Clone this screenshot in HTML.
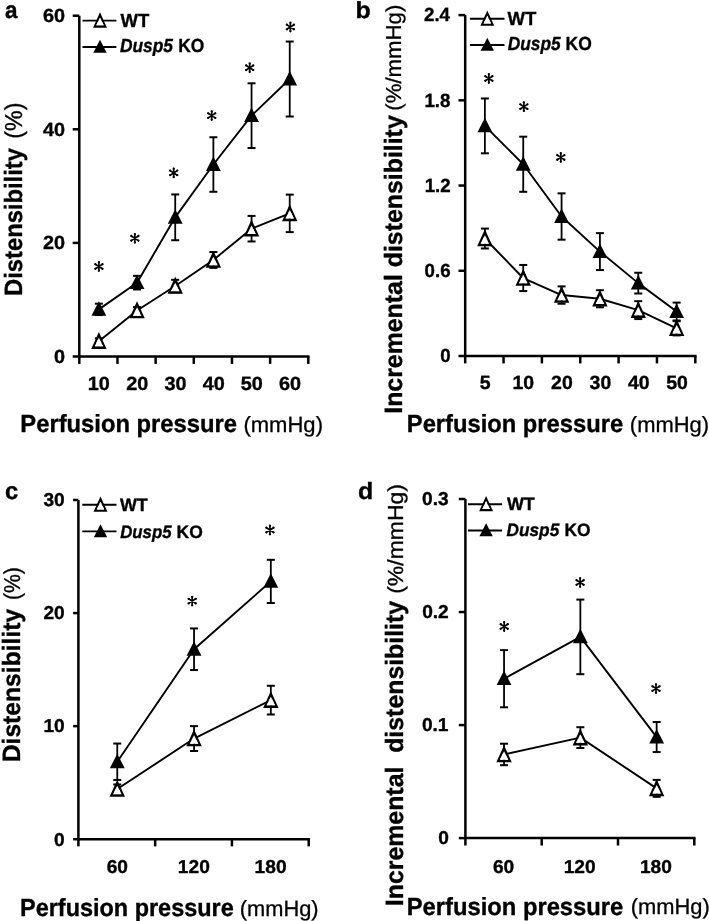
<!DOCTYPE html>
<html><head><meta charset="utf-8"><style>
html,body{margin:0;padding:0;background:#fff;overflow:hidden;}
svg{display:block;filter:blur(0.4px);}
text{font-family:"Liberation Sans", sans-serif;fill:#000;white-space:pre;text-rendering:geometricPrecision;}
</style></head><body>
<svg width="709" height="921" viewBox="0 0 709 921">
<rect width="709" height="921" fill="#fff"/>
<line x1="79.30" y1="15.70" x2="79.30" y2="357.75" stroke="#000" stroke-width="2.5"/>
<line x1="78.05" y1="356.50" x2="309.55" y2="356.50" stroke="#000" stroke-width="2.5"/>
<line x1="72.70" y1="356.50" x2="79.30" y2="356.50" stroke="#000" stroke-width="2.5"/>
<text transform="translate(53.97,362.80) scale(1.0400,1)" font-size="19.1" font-weight="bold" font-style="normal" stroke="#000" stroke-width="0.35">0</text>
<line x1="72.70" y1="242.90" x2="79.30" y2="242.90" stroke="#000" stroke-width="2.5"/>
<text transform="translate(42.92,249.20) scale(1.0400,1)" font-size="19.1" font-weight="bold" font-style="normal" stroke="#000" stroke-width="0.35">20</text>
<line x1="72.70" y1="129.30" x2="79.30" y2="129.30" stroke="#000" stroke-width="2.5"/>
<text transform="translate(42.92,135.60) scale(1.0400,1)" font-size="19.1" font-weight="bold" font-style="normal" stroke="#000" stroke-width="0.35">40</text>
<line x1="72.70" y1="15.70" x2="79.30" y2="15.70" stroke="#000" stroke-width="2.5"/>
<text transform="translate(42.92,22.00) scale(1.0400,1)" font-size="19.1" font-weight="bold" font-style="normal" stroke="#000" stroke-width="0.35">60</text>
<line x1="79.30" y1="356.50" x2="79.30" y2="363.90" stroke="#000" stroke-width="2.5"/>
<line x1="117.47" y1="356.50" x2="117.47" y2="363.90" stroke="#000" stroke-width="2.5"/>
<line x1="155.63" y1="356.50" x2="155.63" y2="363.90" stroke="#000" stroke-width="2.5"/>
<line x1="193.80" y1="356.50" x2="193.80" y2="363.90" stroke="#000" stroke-width="2.5"/>
<line x1="231.97" y1="356.50" x2="231.97" y2="363.90" stroke="#000" stroke-width="2.5"/>
<line x1="270.13" y1="356.50" x2="270.13" y2="363.90" stroke="#000" stroke-width="2.5"/>
<line x1="308.30" y1="356.50" x2="308.30" y2="363.90" stroke="#000" stroke-width="2.5"/>
<text transform="translate(87.82,390.10) scale(1.0400,1)" font-size="19.1" font-weight="bold" font-style="normal" stroke="#000" stroke-width="0.35">10</text>
<text transform="translate(126.27,390.10) scale(1.0400,1)" font-size="19.1" font-weight="bold" font-style="normal" stroke="#000" stroke-width="0.35">20</text>
<text transform="translate(164.55,390.10) scale(1.0400,1)" font-size="19.1" font-weight="bold" font-style="normal" stroke="#000" stroke-width="0.35">30</text>
<text transform="translate(202.79,390.10) scale(1.0400,1)" font-size="19.1" font-weight="bold" font-style="normal" stroke="#000" stroke-width="0.35">40</text>
<text transform="translate(240.80,390.10) scale(1.0400,1)" font-size="19.1" font-weight="bold" font-style="normal" stroke="#000" stroke-width="0.35">50</text>
<text transform="translate(278.91,390.10) scale(1.0400,1)" font-size="19.1" font-weight="bold" font-style="normal" stroke="#000" stroke-width="0.35">60</text>
<polyline points="98.88,341.16 137.05,310.49 175.22,286.07 213.38,259.94 251.55,228.70 289.72,213.36" fill="none" stroke="#000" stroke-width="1.9" stroke-linejoin="round"/>
<polyline points="98.88,309.36 137.05,282.66 175.22,217.34 213.38,164.52 251.55,115.67 289.72,79.03" fill="none" stroke="#000" stroke-width="1.9" stroke-linejoin="round"/>
<line x1="98.88" y1="338.32" x2="98.88" y2="344.00" stroke="#000" stroke-width="1.8"/>
<line x1="94.88" y1="338.32" x2="102.88" y2="338.32" stroke="#000" stroke-width="2.0"/>
<line x1="94.88" y1="344.00" x2="102.88" y2="344.00" stroke="#000" stroke-width="2.0"/>
<line x1="137.05" y1="307.08" x2="137.05" y2="313.90" stroke="#000" stroke-width="1.8"/>
<line x1="133.05" y1="307.08" x2="141.05" y2="307.08" stroke="#000" stroke-width="2.0"/>
<line x1="133.05" y1="313.90" x2="141.05" y2="313.90" stroke="#000" stroke-width="2.0"/>
<line x1="175.22" y1="279.82" x2="175.22" y2="292.32" stroke="#000" stroke-width="1.8"/>
<line x1="171.22" y1="279.82" x2="179.22" y2="279.82" stroke="#000" stroke-width="2.0"/>
<line x1="171.22" y1="292.32" x2="179.22" y2="292.32" stroke="#000" stroke-width="2.0"/>
<line x1="213.38" y1="251.99" x2="213.38" y2="267.89" stroke="#000" stroke-width="1.8"/>
<line x1="209.38" y1="251.99" x2="217.38" y2="251.99" stroke="#000" stroke-width="2.0"/>
<line x1="209.38" y1="267.89" x2="217.38" y2="267.89" stroke="#000" stroke-width="2.0"/>
<line x1="251.55" y1="215.92" x2="251.55" y2="241.48" stroke="#000" stroke-width="1.8"/>
<line x1="247.55" y1="215.92" x2="255.55" y2="215.92" stroke="#000" stroke-width="2.0"/>
<line x1="247.55" y1="241.48" x2="255.55" y2="241.48" stroke="#000" stroke-width="2.0"/>
<line x1="289.72" y1="194.62" x2="289.72" y2="232.11" stroke="#000" stroke-width="1.8"/>
<line x1="285.72" y1="194.62" x2="293.72" y2="194.62" stroke="#000" stroke-width="2.0"/>
<line x1="285.72" y1="232.11" x2="293.72" y2="232.11" stroke="#000" stroke-width="2.0"/>
<path d="M98.88,331.96 L106.58,348.96 L91.18,348.96 Z M98.88,337.86 L103.08,346.36 L94.68,346.36 Z" fill="#000" fill-rule="evenodd"/>
<path d="M98.88,337.86 L103.08,346.36 L94.68,346.36 Z" fill="#fff"/>
<path d="M137.05,301.29 L144.75,318.29 L129.35,318.29 Z M137.05,307.19 L141.25,315.69 L132.85,315.69 Z" fill="#000" fill-rule="evenodd"/>
<path d="M137.05,307.19 L141.25,315.69 L132.85,315.69 Z" fill="#fff"/>
<path d="M175.22,276.87 L182.92,293.87 L167.52,293.87 Z M175.22,282.77 L179.42,291.27 L171.02,291.27 Z" fill="#000" fill-rule="evenodd"/>
<path d="M175.22,282.77 L179.42,291.27 L171.02,291.27 Z" fill="#fff"/>
<path d="M213.38,250.74 L221.08,267.74 L205.68,267.74 Z M213.38,256.64 L217.58,265.14 L209.18,265.14 Z" fill="#000" fill-rule="evenodd"/>
<path d="M213.38,256.64 L217.58,265.14 L209.18,265.14 Z" fill="#fff"/>
<path d="M251.55,219.50 L259.25,236.50 L243.85,236.50 Z M251.55,225.40 L255.75,233.90 L247.35,233.90 Z" fill="#000" fill-rule="evenodd"/>
<path d="M251.55,225.40 L255.75,233.90 L247.35,233.90 Z" fill="#fff"/>
<path d="M289.72,204.16 L297.42,221.16 L282.02,221.16 Z M289.72,210.06 L293.92,218.56 L285.52,218.56 Z" fill="#000" fill-rule="evenodd"/>
<path d="M289.72,210.06 L293.92,218.56 L285.52,218.56 Z" fill="#fff"/>
<line x1="98.88" y1="303.68" x2="98.88" y2="315.04" stroke="#000" stroke-width="1.8"/>
<line x1="94.88" y1="303.68" x2="102.88" y2="303.68" stroke="#000" stroke-width="2.0"/>
<line x1="94.88" y1="315.04" x2="102.88" y2="315.04" stroke="#000" stroke-width="2.0"/>
<line x1="137.05" y1="275.84" x2="137.05" y2="289.48" stroke="#000" stroke-width="1.8"/>
<line x1="133.05" y1="275.84" x2="141.05" y2="275.84" stroke="#000" stroke-width="2.0"/>
<line x1="133.05" y1="289.48" x2="141.05" y2="289.48" stroke="#000" stroke-width="2.0"/>
<line x1="175.22" y1="194.45" x2="175.22" y2="240.23" stroke="#000" stroke-width="1.8"/>
<line x1="171.22" y1="194.45" x2="179.22" y2="194.45" stroke="#000" stroke-width="2.0"/>
<line x1="171.22" y1="240.23" x2="179.22" y2="240.23" stroke="#000" stroke-width="2.0"/>
<line x1="213.38" y1="137.25" x2="213.38" y2="191.78" stroke="#000" stroke-width="1.8"/>
<line x1="209.38" y1="137.25" x2="217.38" y2="137.25" stroke="#000" stroke-width="2.0"/>
<line x1="209.38" y1="191.78" x2="217.38" y2="191.78" stroke="#000" stroke-width="2.0"/>
<line x1="251.55" y1="83.29" x2="251.55" y2="148.04" stroke="#000" stroke-width="1.8"/>
<line x1="247.55" y1="83.29" x2="255.55" y2="83.29" stroke="#000" stroke-width="2.0"/>
<line x1="247.55" y1="148.04" x2="255.55" y2="148.04" stroke="#000" stroke-width="2.0"/>
<line x1="289.72" y1="41.54" x2="289.72" y2="116.52" stroke="#000" stroke-width="1.8"/>
<line x1="285.72" y1="41.54" x2="293.72" y2="41.54" stroke="#000" stroke-width="2.0"/>
<line x1="285.72" y1="116.52" x2="293.72" y2="116.52" stroke="#000" stroke-width="2.0"/>
<path d="M98.88,301.26 L106.28,315.76 L91.48,315.76 Z" fill="#000"/>
<path d="M137.05,274.56 L144.45,289.06 L129.65,289.06 Z" fill="#000"/>
<path d="M175.22,209.24 L182.62,223.74 L167.82,223.74 Z" fill="#000"/>
<path d="M213.38,156.42 L220.78,170.92 L205.98,170.92 Z" fill="#000"/>
<path d="M251.55,107.57 L258.95,122.07 L244.15,122.07 Z" fill="#000"/>
<path d="M289.72,70.93 L297.12,85.43 L282.32,85.43 Z" fill="#000"/>
<path d="M98.90,270.75 L98.90,262.25 M95.34,268.81 L102.46,264.19 M95.34,264.19 L102.46,268.81 " stroke="#000" stroke-width="1.65" stroke-linecap="round" fill="none"/>
<circle cx="98.90" cy="262.25" r="1.15" fill="#000"/>
<circle cx="102.46" cy="264.19" r="1.15" fill="#000"/>
<circle cx="102.46" cy="268.81" r="1.15" fill="#000"/>
<circle cx="98.90" cy="270.75" r="1.15" fill="#000"/>
<circle cx="95.34" cy="268.81" r="1.15" fill="#000"/>
<circle cx="95.34" cy="264.19" r="1.15" fill="#000"/>
<path d="M134.85,242.55 L134.85,234.05 M131.29,240.61 L138.41,235.99 M131.29,235.99 L138.41,240.61 " stroke="#000" stroke-width="1.65" stroke-linecap="round" fill="none"/>
<circle cx="134.85" cy="234.05" r="1.15" fill="#000"/>
<circle cx="138.41" cy="235.99" r="1.15" fill="#000"/>
<circle cx="138.41" cy="240.61" r="1.15" fill="#000"/>
<circle cx="134.85" cy="242.55" r="1.15" fill="#000"/>
<circle cx="131.29" cy="240.61" r="1.15" fill="#000"/>
<circle cx="131.29" cy="235.99" r="1.15" fill="#000"/>
<path d="M173.70,177.15 L173.70,168.65 M170.14,175.21 L177.26,170.59 M170.14,170.59 L177.26,175.21 " stroke="#000" stroke-width="1.65" stroke-linecap="round" fill="none"/>
<circle cx="173.70" cy="168.65" r="1.15" fill="#000"/>
<circle cx="177.26" cy="170.59" r="1.15" fill="#000"/>
<circle cx="177.26" cy="175.21" r="1.15" fill="#000"/>
<circle cx="173.70" cy="177.15" r="1.15" fill="#000"/>
<circle cx="170.14" cy="175.21" r="1.15" fill="#000"/>
<circle cx="170.14" cy="170.59" r="1.15" fill="#000"/>
<path d="M211.70,119.85 L211.70,111.35 M208.14,117.91 L215.26,113.29 M208.14,113.29 L215.26,117.91 " stroke="#000" stroke-width="1.65" stroke-linecap="round" fill="none"/>
<circle cx="211.70" cy="111.35" r="1.15" fill="#000"/>
<circle cx="215.26" cy="113.29" r="1.15" fill="#000"/>
<circle cx="215.26" cy="117.91" r="1.15" fill="#000"/>
<circle cx="211.70" cy="119.85" r="1.15" fill="#000"/>
<circle cx="208.14" cy="117.91" r="1.15" fill="#000"/>
<circle cx="208.14" cy="113.29" r="1.15" fill="#000"/>
<path d="M249.70,72.00 L249.70,63.50 M246.14,70.06 L253.26,65.44 M246.14,65.44 L253.26,70.06 " stroke="#000" stroke-width="1.65" stroke-linecap="round" fill="none"/>
<circle cx="249.70" cy="63.50" r="1.15" fill="#000"/>
<circle cx="253.26" cy="65.44" r="1.15" fill="#000"/>
<circle cx="253.26" cy="70.06" r="1.15" fill="#000"/>
<circle cx="249.70" cy="72.00" r="1.15" fill="#000"/>
<circle cx="246.14" cy="70.06" r="1.15" fill="#000"/>
<circle cx="246.14" cy="65.44" r="1.15" fill="#000"/>
<path d="M290.40,31.25 L290.40,22.75 M286.84,29.31 L293.96,24.69 M286.84,24.69 L293.96,29.31 " stroke="#000" stroke-width="1.65" stroke-linecap="round" fill="none"/>
<circle cx="290.40" cy="22.75" r="1.15" fill="#000"/>
<circle cx="293.96" cy="24.69" r="1.15" fill="#000"/>
<circle cx="293.96" cy="29.31" r="1.15" fill="#000"/>
<circle cx="290.40" cy="31.25" r="1.15" fill="#000"/>
<circle cx="286.84" cy="29.31" r="1.15" fill="#000"/>
<circle cx="286.84" cy="24.69" r="1.15" fill="#000"/>
<line x1="82.50" y1="20.60" x2="116.40" y2="20.60" stroke="#000" stroke-width="1.9"/>
<path d="M100.00,12.35 L106.93,27.65 L93.07,27.65 Z M100.00,17.66 L103.78,25.31 L96.22,25.31 Z" fill="#000" fill-rule="evenodd"/>
<path d="M100.00,17.66 L103.78,25.31 L96.22,25.31 Z" fill="#fff"/>
<line x1="82.50" y1="47.00" x2="116.40" y2="47.00" stroke="#000" stroke-width="1.9"/>
<path d="M100.00,39.74 L106.66,52.79 L93.34,52.79 Z" fill="#000"/>
<text transform="translate(120.48,27.20) scale(0.9722,1)" font-size="19" font-weight="bold" font-style="normal" stroke="#000" stroke-width="0.35">WT</text>
<text transform="translate(120.00,52.30) scale(0.9128,1)" font-size="19" font-weight="bold" font-style="italic" stroke="#000" stroke-width="0.35">Dusp5</text>
<text transform="translate(178.34,52.30) scale(0.9118,1)" font-size="19" font-weight="bold" font-style="normal" stroke="#000" stroke-width="0.35">KO</text>
<text transform="translate(4.94,18.35) scale(0.9536,1)" font-size="23.6" font-weight="bold" font-style="normal" stroke="#000" stroke-width="0.35">a</text>
<text transform="translate(20.31,432.40) scale(0.9631,1)" font-size="24.7" font-weight="bold" font-style="normal" stroke="#000" stroke-width="0.35">Perfusion pressure</text>
<text transform="translate(243.43,431.90) scale(1.0013,1)" font-size="22" font-weight="normal" font-style="normal" stroke="#000" stroke-width="0.3">(mmHg)</text>
<text transform="translate(22.00,295.89) rotate(-90) scale(0.9494,1)" font-size="25" font-weight="bold" font-style="normal" stroke="#000" stroke-width="0.35">Distensibility</text>
<text transform="translate(22.10,138.63) rotate(-90) scale(0.9440,1)" font-size="24.5" font-weight="normal" font-style="normal" stroke="#000" stroke-width="0.3">(%)</text>
<line x1="465.20" y1="15.10" x2="465.20" y2="357.25" stroke="#000" stroke-width="2.5"/>
<line x1="463.95" y1="356.00" x2="696.55" y2="356.00" stroke="#000" stroke-width="2.5"/>
<line x1="458.50" y1="356.00" x2="465.20" y2="356.00" stroke="#000" stroke-width="2.5"/>
<text transform="translate(440.26,362.30) scale(0.9800,1)" font-size="19.1" font-weight="bold" font-style="normal" stroke="#000" stroke-width="0.35">0</text>
<line x1="458.50" y1="270.77" x2="465.20" y2="270.77" stroke="#000" stroke-width="2.5"/>
<text transform="translate(424.56,277.07) scale(0.9800,1)" font-size="19.1" font-weight="bold" font-style="normal" stroke="#000" stroke-width="0.35">0.6</text>
<line x1="458.50" y1="185.55" x2="465.20" y2="185.55" stroke="#000" stroke-width="2.5"/>
<text transform="translate(424.63,191.85) scale(0.9800,1)" font-size="19.1" font-weight="bold" font-style="normal" stroke="#000" stroke-width="0.35">1.2</text>
<line x1="458.50" y1="100.33" x2="465.20" y2="100.33" stroke="#000" stroke-width="2.5"/>
<text transform="translate(424.46,106.63) scale(0.9800,1)" font-size="19.1" font-weight="bold" font-style="normal" stroke="#000" stroke-width="0.35">1.8</text>
<line x1="458.50" y1="15.10" x2="465.20" y2="15.10" stroke="#000" stroke-width="2.5"/>
<text transform="translate(423.98,21.40) scale(0.9800,1)" font-size="19.1" font-weight="bold" font-style="normal" stroke="#000" stroke-width="0.35">2.4</text>
<line x1="465.20" y1="356.00" x2="465.20" y2="363.40" stroke="#000" stroke-width="2.5"/>
<line x1="503.55" y1="356.00" x2="503.55" y2="363.40" stroke="#000" stroke-width="2.5"/>
<line x1="541.90" y1="356.00" x2="541.90" y2="363.40" stroke="#000" stroke-width="2.5"/>
<line x1="580.25" y1="356.00" x2="580.25" y2="363.40" stroke="#000" stroke-width="2.5"/>
<line x1="618.60" y1="356.00" x2="618.60" y2="363.40" stroke="#000" stroke-width="2.5"/>
<line x1="656.95" y1="356.00" x2="656.95" y2="363.40" stroke="#000" stroke-width="2.5"/>
<line x1="695.30" y1="356.00" x2="695.30" y2="363.40" stroke="#000" stroke-width="2.5"/>
<text transform="translate(479.73,388.80) scale(1.0200,1)" font-size="19.1" font-weight="bold" font-style="normal" stroke="#000" stroke-width="0.35">5</text>
<text transform="translate(512.48,388.80) scale(1.0200,1)" font-size="19.1" font-weight="bold" font-style="normal" stroke="#000" stroke-width="0.35">10</text>
<text transform="translate(551.10,388.80) scale(1.0200,1)" font-size="19.1" font-weight="bold" font-style="normal" stroke="#000" stroke-width="0.35">20</text>
<text transform="translate(589.57,388.80) scale(1.0200,1)" font-size="19.1" font-weight="bold" font-style="normal" stroke="#000" stroke-width="0.35">30</text>
<text transform="translate(627.99,388.80) scale(1.0200,1)" font-size="19.1" font-weight="bold" font-style="normal" stroke="#000" stroke-width="0.35">40</text>
<text transform="translate(666.19,388.80) scale(1.0200,1)" font-size="19.1" font-weight="bold" font-style="normal" stroke="#000" stroke-width="0.35">50</text>
<polyline points="484.88,238.53 523.23,278.02 561.57,295.06 599.92,298.76 638.27,310.12 676.62,328.30" fill="none" stroke="#000" stroke-width="1.9" stroke-linejoin="round"/>
<polyline points="484.88,125.89 523.23,164.24 561.57,216.52 599.92,251.60 638.27,283.13 676.62,311.54" fill="none" stroke="#000" stroke-width="1.9" stroke-linejoin="round"/>
<line x1="484.88" y1="228.59" x2="484.88" y2="248.47" stroke="#000" stroke-width="1.8"/>
<line x1="480.88" y1="228.59" x2="488.88" y2="228.59" stroke="#000" stroke-width="2.0"/>
<line x1="480.88" y1="248.47" x2="488.88" y2="248.47" stroke="#000" stroke-width="2.0"/>
<line x1="523.23" y1="264.95" x2="523.23" y2="291.09" stroke="#000" stroke-width="1.8"/>
<line x1="519.23" y1="264.95" x2="527.23" y2="264.95" stroke="#000" stroke-width="2.0"/>
<line x1="519.23" y1="291.09" x2="527.23" y2="291.09" stroke="#000" stroke-width="2.0"/>
<line x1="561.57" y1="286.40" x2="561.57" y2="303.73" stroke="#000" stroke-width="1.8"/>
<line x1="557.57" y1="286.40" x2="565.57" y2="286.40" stroke="#000" stroke-width="2.0"/>
<line x1="557.57" y1="303.73" x2="565.57" y2="303.73" stroke="#000" stroke-width="2.0"/>
<line x1="599.92" y1="290.23" x2="599.92" y2="307.28" stroke="#000" stroke-width="1.8"/>
<line x1="595.92" y1="290.23" x2="603.92" y2="290.23" stroke="#000" stroke-width="2.0"/>
<line x1="595.92" y1="307.28" x2="603.92" y2="307.28" stroke="#000" stroke-width="2.0"/>
<line x1="638.27" y1="301.17" x2="638.27" y2="319.07" stroke="#000" stroke-width="1.8"/>
<line x1="634.27" y1="301.17" x2="642.27" y2="301.17" stroke="#000" stroke-width="2.0"/>
<line x1="634.27" y1="319.07" x2="642.27" y2="319.07" stroke="#000" stroke-width="2.0"/>
<line x1="676.62" y1="321.20" x2="676.62" y2="335.40" stroke="#000" stroke-width="1.8"/>
<line x1="672.62" y1="321.20" x2="680.62" y2="321.20" stroke="#000" stroke-width="2.0"/>
<line x1="672.62" y1="335.40" x2="680.62" y2="335.40" stroke="#000" stroke-width="2.0"/>
<path d="M484.88,229.33 L492.57,246.33 L477.18,246.33 Z M484.88,235.23 L489.07,243.73 L480.68,243.73 Z" fill="#000" fill-rule="evenodd"/>
<path d="M484.88,235.23 L489.07,243.73 L480.68,243.73 Z" fill="#fff"/>
<path d="M523.23,268.82 L530.93,285.82 L515.52,285.82 Z M523.23,274.72 L527.43,283.22 L519.02,283.22 Z" fill="#000" fill-rule="evenodd"/>
<path d="M523.23,274.72 L527.43,283.22 L519.02,283.22 Z" fill="#fff"/>
<path d="M561.57,285.86 L569.27,302.86 L553.87,302.86 Z M561.57,291.76 L565.77,300.26 L557.37,300.26 Z" fill="#000" fill-rule="evenodd"/>
<path d="M561.57,291.76 L565.77,300.26 L557.37,300.26 Z" fill="#fff"/>
<path d="M599.92,289.56 L607.62,306.56 L592.22,306.56 Z M599.92,295.46 L604.12,303.96 L595.72,303.96 Z" fill="#000" fill-rule="evenodd"/>
<path d="M599.92,295.46 L604.12,303.96 L595.72,303.96 Z" fill="#fff"/>
<path d="M638.27,300.92 L645.98,317.92 L630.57,317.92 Z M638.27,306.82 L642.48,315.32 L634.07,315.32 Z" fill="#000" fill-rule="evenodd"/>
<path d="M638.27,306.82 L642.48,315.32 L634.07,315.32 Z" fill="#fff"/>
<path d="M676.62,319.10 L684.33,336.10 L668.92,336.10 Z M676.62,325.00 L680.83,333.50 L672.42,333.50 Z" fill="#000" fill-rule="evenodd"/>
<path d="M676.62,325.00 L680.83,333.50 L672.42,333.50 Z" fill="#fff"/>
<line x1="484.88" y1="98.48" x2="484.88" y2="153.31" stroke="#000" stroke-width="1.8"/>
<line x1="480.88" y1="98.48" x2="488.88" y2="98.48" stroke="#000" stroke-width="2.0"/>
<line x1="480.88" y1="153.31" x2="488.88" y2="153.31" stroke="#000" stroke-width="2.0"/>
<line x1="523.23" y1="136.69" x2="523.23" y2="191.80" stroke="#000" stroke-width="1.8"/>
<line x1="519.23" y1="136.69" x2="527.23" y2="136.69" stroke="#000" stroke-width="2.0"/>
<line x1="519.23" y1="191.80" x2="527.23" y2="191.80" stroke="#000" stroke-width="2.0"/>
<line x1="561.57" y1="193.36" x2="561.57" y2="239.67" stroke="#000" stroke-width="1.8"/>
<line x1="557.57" y1="193.36" x2="565.57" y2="193.36" stroke="#000" stroke-width="2.0"/>
<line x1="557.57" y1="239.67" x2="565.57" y2="239.67" stroke="#000" stroke-width="2.0"/>
<line x1="599.92" y1="233.13" x2="599.92" y2="270.06" stroke="#000" stroke-width="1.8"/>
<line x1="595.92" y1="233.13" x2="603.92" y2="233.13" stroke="#000" stroke-width="2.0"/>
<line x1="595.92" y1="270.06" x2="603.92" y2="270.06" stroke="#000" stroke-width="2.0"/>
<line x1="638.27" y1="272.76" x2="638.27" y2="293.50" stroke="#000" stroke-width="1.8"/>
<line x1="634.27" y1="272.76" x2="642.27" y2="272.76" stroke="#000" stroke-width="2.0"/>
<line x1="634.27" y1="293.50" x2="642.27" y2="293.50" stroke="#000" stroke-width="2.0"/>
<line x1="676.62" y1="302.59" x2="676.62" y2="320.49" stroke="#000" stroke-width="1.8"/>
<line x1="672.62" y1="302.59" x2="680.62" y2="302.59" stroke="#000" stroke-width="2.0"/>
<line x1="672.62" y1="320.49" x2="680.62" y2="320.49" stroke="#000" stroke-width="2.0"/>
<path d="M484.88,117.79 L492.27,132.29 L477.48,132.29 Z" fill="#000"/>
<path d="M523.23,156.14 L530.62,170.64 L515.83,170.64 Z" fill="#000"/>
<path d="M561.57,208.42 L568.97,222.92 L554.17,222.92 Z" fill="#000"/>
<path d="M599.92,243.50 L607.32,258.00 L592.52,258.00 Z" fill="#000"/>
<path d="M638.27,275.03 L645.67,289.53 L630.88,289.53 Z" fill="#000"/>
<path d="M676.62,303.44 L684.02,317.94 L669.23,317.94 Z" fill="#000"/>
<path d="M488.85,82.75 L488.85,74.25 M485.29,80.81 L492.41,76.19 M485.29,76.19 L492.41,80.81 " stroke="#000" stroke-width="1.65" stroke-linecap="round" fill="none"/>
<circle cx="488.85" cy="74.25" r="1.15" fill="#000"/>
<circle cx="492.41" cy="76.19" r="1.15" fill="#000"/>
<circle cx="492.41" cy="80.81" r="1.15" fill="#000"/>
<circle cx="488.85" cy="82.75" r="1.15" fill="#000"/>
<circle cx="485.29" cy="80.81" r="1.15" fill="#000"/>
<circle cx="485.29" cy="76.19" r="1.15" fill="#000"/>
<path d="M523.85,110.90 L523.85,102.40 M520.29,108.96 L527.41,104.34 M520.29,104.34 L527.41,108.96 " stroke="#000" stroke-width="1.65" stroke-linecap="round" fill="none"/>
<circle cx="523.85" cy="102.40" r="1.15" fill="#000"/>
<circle cx="527.41" cy="104.34" r="1.15" fill="#000"/>
<circle cx="527.41" cy="108.96" r="1.15" fill="#000"/>
<circle cx="523.85" cy="110.90" r="1.15" fill="#000"/>
<circle cx="520.29" cy="108.96" r="1.15" fill="#000"/>
<circle cx="520.29" cy="104.34" r="1.15" fill="#000"/>
<path d="M560.80,161.70 L560.80,153.20 M557.24,159.76 L564.36,155.14 M557.24,155.14 L564.36,159.76 " stroke="#000" stroke-width="1.65" stroke-linecap="round" fill="none"/>
<circle cx="560.80" cy="153.20" r="1.15" fill="#000"/>
<circle cx="564.36" cy="155.14" r="1.15" fill="#000"/>
<circle cx="564.36" cy="159.76" r="1.15" fill="#000"/>
<circle cx="560.80" cy="161.70" r="1.15" fill="#000"/>
<circle cx="557.24" cy="159.76" r="1.15" fill="#000"/>
<circle cx="557.24" cy="155.14" r="1.15" fill="#000"/>
<line x1="469.90" y1="18.80" x2="504.50" y2="18.80" stroke="#000" stroke-width="1.9"/>
<path d="M487.30,10.55 L494.23,25.85 L480.37,25.85 Z M487.30,15.86 L491.08,23.51 L483.52,23.51 Z" fill="#000" fill-rule="evenodd"/>
<path d="M487.30,15.86 L491.08,23.51 L483.52,23.51 Z" fill="#fff"/>
<line x1="469.90" y1="45.00" x2="504.50" y2="45.00" stroke="#000" stroke-width="1.9"/>
<path d="M487.30,37.74 L493.96,50.79 L480.64,50.79 Z" fill="#000"/>
<text transform="translate(507.48,24.90) scale(0.9756,1)" font-size="19" font-weight="bold" font-style="normal" stroke="#000" stroke-width="0.35">WT</text>
<text transform="translate(507.70,49.60) scale(0.9110,1)" font-size="19" font-weight="bold" font-style="italic" stroke="#000" stroke-width="0.35">Dusp5</text>
<text transform="translate(565.53,49.60) scale(0.9194,1)" font-size="19" font-weight="bold" font-style="normal" stroke="#000" stroke-width="0.35">KO</text>
<text transform="translate(355.45,18.45) scale(1.0778,1)" font-size="23.2" font-weight="bold" font-style="normal" stroke="#000" stroke-width="0.35">b</text>
<text transform="translate(406.81,432.00) scale(0.9613,1)" font-size="24.7" font-weight="bold" font-style="normal" stroke="#000" stroke-width="0.35">Perfusion pressure</text>
<text transform="translate(629.84,431.50) scale(0.9974,1)" font-size="22" font-weight="normal" font-style="normal" stroke="#000" stroke-width="0.3">(mmHg)</text>
<text transform="translate(401.90,413.76) rotate(-90) scale(0.9947,1)" font-size="25" font-weight="bold" font-style="normal" stroke="#000" stroke-width="0.35">Incremental distensibility</text>
<text transform="translate(401.30,110.68) rotate(-90) scale(1.0277,1)" font-size="21.6" font-weight="normal" font-style="normal" stroke="#000" stroke-width="0.3">(%/mmHg)</text>
<line x1="78.40" y1="500.00" x2="78.40" y2="840.45" stroke="#000" stroke-width="2.5"/>
<line x1="77.15" y1="839.20" x2="309.95" y2="839.20" stroke="#000" stroke-width="2.5"/>
<line x1="73.10" y1="839.20" x2="78.40" y2="839.20" stroke="#000" stroke-width="2.5"/>
<text transform="translate(54.03,845.50) scale(1.0300,1)" font-size="18.6" font-weight="bold" font-style="normal" stroke="#000" stroke-width="0.35">0</text>
<line x1="73.10" y1="726.13" x2="78.40" y2="726.13" stroke="#000" stroke-width="2.5"/>
<text transform="translate(43.38,732.43) scale(1.0300,1)" font-size="18.6" font-weight="bold" font-style="normal" stroke="#000" stroke-width="0.35">10</text>
<line x1="73.10" y1="613.07" x2="78.40" y2="613.07" stroke="#000" stroke-width="2.5"/>
<text transform="translate(43.38,619.37) scale(1.0300,1)" font-size="18.6" font-weight="bold" font-style="normal" stroke="#000" stroke-width="0.35">20</text>
<line x1="73.10" y1="500.00" x2="78.40" y2="500.00" stroke="#000" stroke-width="2.5"/>
<text transform="translate(43.38,506.30) scale(1.0300,1)" font-size="18.6" font-weight="bold" font-style="normal" stroke="#000" stroke-width="0.35">30</text>
<line x1="78.40" y1="839.20" x2="78.40" y2="846.40" stroke="#000" stroke-width="2.5"/>
<line x1="155.17" y1="839.20" x2="155.17" y2="846.40" stroke="#000" stroke-width="2.5"/>
<line x1="231.93" y1="839.20" x2="231.93" y2="846.40" stroke="#000" stroke-width="2.5"/>
<line x1="308.70" y1="839.20" x2="308.70" y2="846.40" stroke="#000" stroke-width="2.5"/>
<text transform="translate(106.67,872.70) scale(1.0300,1)" font-size="18.6" font-weight="bold" font-style="normal" stroke="#000" stroke-width="0.35">60</text>
<text transform="translate(177.86,872.70) scale(1.0300,1)" font-size="18.6" font-weight="bold" font-style="normal" stroke="#000" stroke-width="0.35">120</text>
<text transform="translate(254.62,872.70) scale(1.0300,1)" font-size="18.6" font-weight="bold" font-style="normal" stroke="#000" stroke-width="0.35">180</text>
<polyline points="117.28,789.00 194.05,738.57 270.82,700.13" fill="none" stroke="#000" stroke-width="1.9" stroke-linejoin="round"/>
<polyline points="117.28,761.75 194.05,649.25 270.82,581.41" fill="none" stroke="#000" stroke-width="1.9" stroke-linejoin="round"/>
<line x1="117.28" y1="784.48" x2="117.28" y2="793.52" stroke="#000" stroke-width="1.8"/>
<line x1="113.28" y1="784.48" x2="121.28" y2="784.48" stroke="#000" stroke-width="2.0"/>
<line x1="113.28" y1="793.52" x2="121.28" y2="793.52" stroke="#000" stroke-width="2.0"/>
<line x1="194.05" y1="726.13" x2="194.05" y2="751.01" stroke="#000" stroke-width="1.8"/>
<line x1="190.05" y1="726.13" x2="198.05" y2="726.13" stroke="#000" stroke-width="2.0"/>
<line x1="190.05" y1="751.01" x2="198.05" y2="751.01" stroke="#000" stroke-width="2.0"/>
<line x1="270.82" y1="685.77" x2="270.82" y2="714.49" stroke="#000" stroke-width="1.8"/>
<line x1="266.82" y1="685.77" x2="274.82" y2="685.77" stroke="#000" stroke-width="2.0"/>
<line x1="266.82" y1="714.49" x2="274.82" y2="714.49" stroke="#000" stroke-width="2.0"/>
<path d="M117.28,779.80 L124.98,796.80 L109.58,796.80 Z M117.28,785.70 L121.48,794.20 L113.08,794.20 Z" fill="#000" fill-rule="evenodd"/>
<path d="M117.28,785.70 L121.48,794.20 L113.08,794.20 Z" fill="#fff"/>
<path d="M194.05,729.37 L201.75,746.37 L186.35,746.37 Z M194.05,735.27 L198.25,743.77 L189.85,743.77 Z" fill="#000" fill-rule="evenodd"/>
<path d="M194.05,735.27 L198.25,743.77 L189.85,743.77 Z" fill="#fff"/>
<path d="M270.82,690.93 L278.52,707.93 L263.12,707.93 Z M270.82,696.83 L275.02,705.33 L266.62,705.33 Z" fill="#000" fill-rule="evenodd"/>
<path d="M270.82,696.83 L275.02,705.33 L266.62,705.33 Z" fill="#fff"/>
<line x1="117.28" y1="743.55" x2="117.28" y2="779.95" stroke="#000" stroke-width="1.8"/>
<line x1="113.28" y1="743.55" x2="121.28" y2="743.55" stroke="#000" stroke-width="2.0"/>
<line x1="113.28" y1="779.95" x2="121.28" y2="779.95" stroke="#000" stroke-width="2.0"/>
<line x1="194.05" y1="628.44" x2="194.05" y2="670.05" stroke="#000" stroke-width="1.8"/>
<line x1="190.05" y1="628.44" x2="198.05" y2="628.44" stroke="#000" stroke-width="2.0"/>
<line x1="190.05" y1="670.05" x2="198.05" y2="670.05" stroke="#000" stroke-width="2.0"/>
<line x1="270.82" y1="559.81" x2="270.82" y2="603.00" stroke="#000" stroke-width="1.8"/>
<line x1="266.82" y1="559.81" x2="274.82" y2="559.81" stroke="#000" stroke-width="2.0"/>
<line x1="266.82" y1="603.00" x2="274.82" y2="603.00" stroke="#000" stroke-width="2.0"/>
<path d="M117.28,753.65 L124.68,768.15 L109.88,768.15 Z" fill="#000"/>
<path d="M194.05,641.15 L201.45,655.65 L186.65,655.65 Z" fill="#000"/>
<path d="M270.82,573.31 L278.22,587.81 L263.42,587.81 Z" fill="#000"/>
<path d="M192.20,605.35 L192.20,596.85 M188.64,603.41 L195.76,598.79 M188.64,598.79 L195.76,603.41 " stroke="#000" stroke-width="1.65" stroke-linecap="round" fill="none"/>
<circle cx="192.20" cy="596.85" r="1.15" fill="#000"/>
<circle cx="195.76" cy="598.79" r="1.15" fill="#000"/>
<circle cx="195.76" cy="603.41" r="1.15" fill="#000"/>
<circle cx="192.20" cy="605.35" r="1.15" fill="#000"/>
<circle cx="188.64" cy="603.41" r="1.15" fill="#000"/>
<circle cx="188.64" cy="598.79" r="1.15" fill="#000"/>
<path d="M269.95,534.25 L269.95,525.75 M266.39,532.31 L273.51,527.69 M266.39,527.69 L273.51,532.31 " stroke="#000" stroke-width="1.65" stroke-linecap="round" fill="none"/>
<circle cx="269.95" cy="525.75" r="1.15" fill="#000"/>
<circle cx="273.51" cy="527.69" r="1.15" fill="#000"/>
<circle cx="273.51" cy="532.31" r="1.15" fill="#000"/>
<circle cx="269.95" cy="534.25" r="1.15" fill="#000"/>
<circle cx="266.39" cy="532.31" r="1.15" fill="#000"/>
<circle cx="266.39" cy="527.69" r="1.15" fill="#000"/>
<line x1="82.30" y1="504.80" x2="116.50" y2="504.80" stroke="#000" stroke-width="1.9"/>
<path d="M100.50,496.55 L107.43,511.85 L93.57,511.85 Z M100.50,501.86 L104.28,509.51 L96.72,509.51 Z" fill="#000" fill-rule="evenodd"/>
<path d="M100.50,501.86 L104.28,509.51 L96.72,509.51 Z" fill="#fff"/>
<line x1="82.30" y1="531.40" x2="116.50" y2="531.40" stroke="#000" stroke-width="1.9"/>
<path d="M100.50,524.14 L107.16,537.19 L93.84,537.19 Z" fill="#000"/>
<text transform="translate(119.88,510.70) scale(0.9938,1)" font-size="18" font-weight="bold" font-style="normal" stroke="#000" stroke-width="0.35">WT</text>
<text transform="translate(120.20,538.40) scale(0.9343,1)" font-size="18" font-weight="bold" font-style="italic" stroke="#000" stroke-width="0.35">Dusp5</text>
<text transform="translate(176.53,538.40) scale(0.9704,1)" font-size="18" font-weight="bold" font-style="normal" stroke="#000" stroke-width="0.35">KO</text>
<text transform="translate(4.97,499.40) scale(0.9909,1)" font-size="24" font-weight="bold" font-style="normal" stroke="#000" stroke-width="0.35">c</text>
<text transform="translate(20.03,916.20) scale(0.9496,1)" font-size="24.7" font-weight="bold" font-style="normal" stroke="#000" stroke-width="0.35">Perfusion pressure</text>
<text transform="translate(239.75,915.70) scale(0.9922,1)" font-size="22" font-weight="normal" font-style="normal" stroke="#000" stroke-width="0.3">(mmHg)</text>
<text transform="translate(19.70,762.25) rotate(-90) scale(0.9864,1)" font-size="25" font-weight="bold" font-style="normal" stroke="#000" stroke-width="0.35">Distensibility</text>
<text transform="translate(20.20,600.11) rotate(-90) scale(0.9205,1)" font-size="23" font-weight="normal" font-style="normal" stroke="#000" stroke-width="0.3">(%)</text>
<line x1="465.40" y1="499.00" x2="465.40" y2="839.35" stroke="#000" stroke-width="2.5"/>
<line x1="464.15" y1="838.10" x2="695.55" y2="838.10" stroke="#000" stroke-width="2.5"/>
<line x1="458.80" y1="838.10" x2="465.40" y2="838.10" stroke="#000" stroke-width="2.5"/>
<text transform="translate(438.13,844.40) scale(1.0300,1)" font-size="18.6" font-weight="bold" font-style="normal" stroke="#000" stroke-width="0.35">0</text>
<line x1="458.80" y1="725.07" x2="465.40" y2="725.07" stroke="#000" stroke-width="2.5"/>
<text transform="translate(421.90,731.37) scale(1.0300,1)" font-size="18.6" font-weight="bold" font-style="normal" stroke="#000" stroke-width="0.35">0.1</text>
<line x1="458.80" y1="612.03" x2="465.40" y2="612.03" stroke="#000" stroke-width="2.5"/>
<text transform="translate(422.13,618.33) scale(1.0300,1)" font-size="18.6" font-weight="bold" font-style="normal" stroke="#000" stroke-width="0.35">0.2</text>
<line x1="458.80" y1="499.00" x2="465.40" y2="499.00" stroke="#000" stroke-width="2.5"/>
<text transform="translate(422.06,505.30) scale(1.0300,1)" font-size="18.6" font-weight="bold" font-style="normal" stroke="#000" stroke-width="0.35">0.3</text>
<line x1="465.40" y1="838.10" x2="465.40" y2="845.50" stroke="#000" stroke-width="2.5"/>
<line x1="541.70" y1="838.10" x2="541.70" y2="845.50" stroke="#000" stroke-width="2.5"/>
<line x1="618.00" y1="838.10" x2="618.00" y2="845.50" stroke="#000" stroke-width="2.5"/>
<line x1="694.30" y1="838.10" x2="694.30" y2="845.50" stroke="#000" stroke-width="2.5"/>
<text transform="translate(492.94,873.00) scale(1.0300,1)" font-size="18.6" font-weight="bold" font-style="normal" stroke="#000" stroke-width="0.35">60</text>
<text transform="translate(563.66,873.00) scale(1.0300,1)" font-size="18.6" font-weight="bold" font-style="normal" stroke="#000" stroke-width="0.35">120</text>
<text transform="translate(639.96,873.00) scale(1.0300,1)" font-size="18.6" font-weight="bold" font-style="normal" stroke="#000" stroke-width="0.35">180</text>
<polyline points="504.05,754.46 580.35,737.61 656.65,788.37" fill="none" stroke="#000" stroke-width="1.9" stroke-linejoin="round"/>
<polyline points="504.05,678.72 580.35,636.90 656.65,737.05" fill="none" stroke="#000" stroke-width="1.9" stroke-linejoin="round"/>
<line x1="504.05" y1="743.72" x2="504.05" y2="765.19" stroke="#000" stroke-width="1.8"/>
<line x1="500.05" y1="743.72" x2="508.05" y2="743.72" stroke="#000" stroke-width="2.0"/>
<line x1="500.05" y1="765.19" x2="508.05" y2="765.19" stroke="#000" stroke-width="2.0"/>
<line x1="580.35" y1="727.21" x2="580.35" y2="748.01" stroke="#000" stroke-width="1.8"/>
<line x1="576.35" y1="727.21" x2="584.35" y2="727.21" stroke="#000" stroke-width="2.0"/>
<line x1="576.35" y1="748.01" x2="584.35" y2="748.01" stroke="#000" stroke-width="2.0"/>
<line x1="656.65" y1="779.89" x2="656.65" y2="796.84" stroke="#000" stroke-width="1.8"/>
<line x1="652.65" y1="779.89" x2="660.65" y2="779.89" stroke="#000" stroke-width="2.0"/>
<line x1="652.65" y1="796.84" x2="660.65" y2="796.84" stroke="#000" stroke-width="2.0"/>
<path d="M504.05,745.26 L511.75,762.26 L496.35,762.26 Z M504.05,751.16 L508.25,759.66 L499.85,759.66 Z" fill="#000" fill-rule="evenodd"/>
<path d="M504.05,751.16 L508.25,759.66 L499.85,759.66 Z" fill="#fff"/>
<path d="M580.35,728.41 L588.05,745.41 L572.65,745.41 Z M580.35,734.31 L584.55,742.81 L576.15,742.81 Z" fill="#000" fill-rule="evenodd"/>
<path d="M580.35,734.31 L584.55,742.81 L576.15,742.81 Z" fill="#fff"/>
<path d="M656.65,779.17 L664.35,796.17 L648.95,796.17 Z M656.65,785.07 L660.85,793.57 L652.45,793.57 Z" fill="#000" fill-rule="evenodd"/>
<path d="M656.65,785.07 L660.85,793.57 L652.45,793.57 Z" fill="#fff"/>
<line x1="504.05" y1="650.13" x2="504.05" y2="707.32" stroke="#000" stroke-width="1.8"/>
<line x1="500.05" y1="650.13" x2="508.05" y2="650.13" stroke="#000" stroke-width="2.0"/>
<line x1="500.05" y1="707.32" x2="508.05" y2="707.32" stroke="#000" stroke-width="2.0"/>
<line x1="580.35" y1="599.60" x2="580.35" y2="674.20" stroke="#000" stroke-width="1.8"/>
<line x1="576.35" y1="599.60" x2="584.35" y2="599.60" stroke="#000" stroke-width="2.0"/>
<line x1="576.35" y1="674.20" x2="584.35" y2="674.20" stroke="#000" stroke-width="2.0"/>
<line x1="656.65" y1="722.01" x2="656.65" y2="752.08" stroke="#000" stroke-width="1.8"/>
<line x1="652.65" y1="722.01" x2="660.65" y2="722.01" stroke="#000" stroke-width="2.0"/>
<line x1="652.65" y1="752.08" x2="660.65" y2="752.08" stroke="#000" stroke-width="2.0"/>
<path d="M504.05,670.62 L511.45,685.12 L496.65,685.12 Z" fill="#000"/>
<path d="M580.35,628.80 L587.75,643.30 L572.95,643.30 Z" fill="#000"/>
<path d="M656.65,728.95 L664.05,743.45 L649.25,743.45 Z" fill="#000"/>
<path d="M504.20,630.75 L504.20,622.25 M500.64,628.81 L507.76,624.19 M500.64,624.19 L507.76,628.81 " stroke="#000" stroke-width="1.65" stroke-linecap="round" fill="none"/>
<circle cx="504.20" cy="622.25" r="1.15" fill="#000"/>
<circle cx="507.76" cy="624.19" r="1.15" fill="#000"/>
<circle cx="507.76" cy="628.81" r="1.15" fill="#000"/>
<circle cx="504.20" cy="630.75" r="1.15" fill="#000"/>
<circle cx="500.64" cy="628.81" r="1.15" fill="#000"/>
<circle cx="500.64" cy="624.19" r="1.15" fill="#000"/>
<path d="M580.10,586.75 L580.10,578.25 M576.54,584.81 L583.66,580.19 M576.54,580.19 L583.66,584.81 " stroke="#000" stroke-width="1.65" stroke-linecap="round" fill="none"/>
<circle cx="580.10" cy="578.25" r="1.15" fill="#000"/>
<circle cx="583.66" cy="580.19" r="1.15" fill="#000"/>
<circle cx="583.66" cy="584.81" r="1.15" fill="#000"/>
<circle cx="580.10" cy="586.75" r="1.15" fill="#000"/>
<circle cx="576.54" cy="584.81" r="1.15" fill="#000"/>
<circle cx="576.54" cy="580.19" r="1.15" fill="#000"/>
<path d="M656.00,692.85 L656.00,684.35 M652.44,690.91 L659.56,686.29 M652.44,686.29 L659.56,690.91 " stroke="#000" stroke-width="1.65" stroke-linecap="round" fill="none"/>
<circle cx="656.00" cy="684.35" r="1.15" fill="#000"/>
<circle cx="659.56" cy="686.29" r="1.15" fill="#000"/>
<circle cx="659.56" cy="690.91" r="1.15" fill="#000"/>
<circle cx="656.00" cy="692.85" r="1.15" fill="#000"/>
<circle cx="652.44" cy="690.91" r="1.15" fill="#000"/>
<circle cx="652.44" cy="686.29" r="1.15" fill="#000"/>
<line x1="468.00" y1="504.20" x2="502.10" y2="504.20" stroke="#000" stroke-width="1.9"/>
<path d="M486.10,495.95 L493.03,511.25 L479.17,511.25 Z M486.10,501.26 L489.88,508.91 L482.32,508.91 Z" fill="#000" fill-rule="evenodd"/>
<path d="M486.10,501.26 L489.88,508.91 L482.32,508.91 Z" fill="#fff"/>
<line x1="468.00" y1="530.50" x2="502.10" y2="530.50" stroke="#000" stroke-width="1.9"/>
<path d="M486.10,523.24 L492.76,536.29 L479.44,536.29 Z" fill="#000"/>
<text transform="translate(506.88,510.30) scale(0.9938,1)" font-size="18" font-weight="bold" font-style="normal" stroke="#000" stroke-width="0.35">WT</text>
<text transform="translate(506.60,535.80) scale(0.9562,1)" font-size="18" font-weight="bold" font-style="italic" stroke="#000" stroke-width="0.35">Dusp5</text>
<text transform="translate(564.54,535.80) scale(0.9625,1)" font-size="18" font-weight="bold" font-style="normal" stroke="#000" stroke-width="0.35">KO</text>
<text transform="translate(358.07,499.30) scale(1.0595,1)" font-size="23.6" font-weight="bold" font-style="normal" stroke="#000" stroke-width="0.35">d</text>
<text transform="translate(406.66,914.80) scale(0.9628,1)" font-size="24.7" font-weight="bold" font-style="normal" stroke="#000" stroke-width="0.35">Perfusion pressure</text>
<text transform="translate(630.74,914.40) scale(0.9948,1)" font-size="22" font-weight="normal" font-style="normal" stroke="#000" stroke-width="0.3">(mmHg)</text>
<text transform="translate(403.10,906.16) rotate(-90) scale(0.9943,1)" font-size="25" font-weight="bold" font-style="normal" stroke="#000" stroke-width="0.35">Incremental  distensibility</text>
<text transform="translate(402.90,593.82) rotate(-90) scale(1.0538,1)" font-size="21.8" font-weight="normal" font-style="normal" stroke="#000" stroke-width="0.3">(%/mmHg)</text>
</svg>
</body></html>
